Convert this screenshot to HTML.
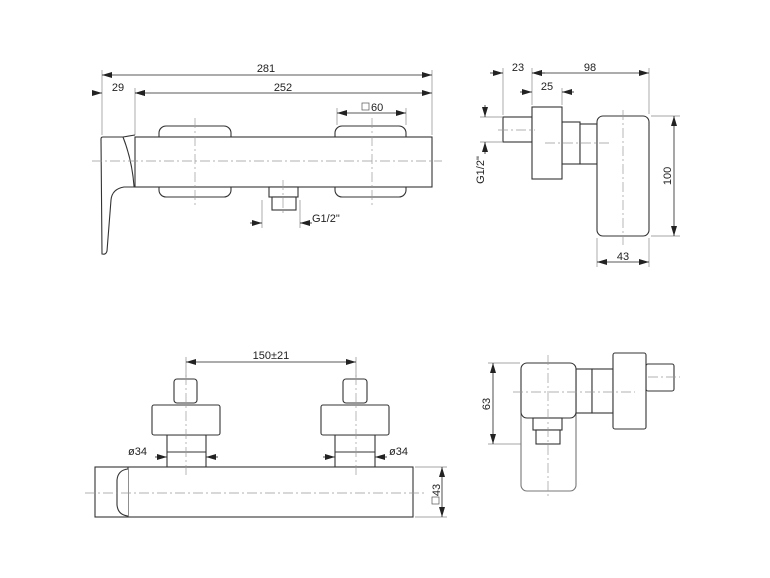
<!DOCTYPE html>
<html><head><meta charset="utf-8"><style>
html,body{margin:0;padding:0;background:#fff}
svg{display:block}
text{font-family:"Liberation Sans",sans-serif;font-size:11px;fill:#222}
</style></head><body>
<svg width="770" height="578" viewBox="0 0 770 578" xmlns="http://www.w3.org/2000/svg">
<defs>
<marker id="a" viewBox="0 0 10 6" refX="10" refY="3" markerWidth="10" markerHeight="6" orient="auto-start-reverse" markerUnits="userSpaceOnUse"><path d="M0,0 L10,3 L0,6 Z" fill="#222"/></marker>
</defs>
<g fill="none" stroke="#888" stroke-width="0.7">
<line x1="102" y1="70" x2="102" y2="135"/><line x1="135" y1="88" x2="135" y2="135"/><line x1="432" y1="70" x2="432" y2="135"/>
<line x1="337" y1="108" x2="337" y2="125"/><line x1="406" y1="108" x2="406" y2="125"/>
<line x1="262" y1="200" x2="262" y2="228"/><line x1="300" y1="200" x2="300" y2="228"/>
<line x1="503" y1="68" x2="503" y2="115"/><line x1="532" y1="68" x2="532" y2="105"/><line x1="649" y1="68" x2="649" y2="114"/><line x1="562" y1="88" x2="562" y2="105"/>
<line x1="480" y1="117" x2="502" y2="117"/><line x1="480" y1="142" x2="502" y2="142"/>
<line x1="651" y1="116" x2="680" y2="116"/><line x1="651" y1="236" x2="680" y2="236"/>
<line x1="597" y1="238" x2="597" y2="267"/><line x1="649" y1="238" x2="649" y2="267"/>
<line x1="186" y1="357" x2="186" y2="377"/><line x1="356" y1="357" x2="356" y2="377"/>
<line x1="415" y1="467" x2="447" y2="467"/><line x1="415" y1="517" x2="447" y2="517"/>
<line x1="488" y1="363" x2="520" y2="363"/><line x1="488" y1="444" x2="535" y2="444"/>
</g>
<g fill="none" stroke="#222" stroke-width="0.8" marker-start="url(#a)" marker-end="url(#a)">
<line x1="102" y1="75" x2="432" y2="75"/>
<line x1="135" y1="93" x2="432" y2="93"/>
<line x1="337" y1="113" x2="406" y2="113"/>
<line x1="532" y1="73" x2="649" y2="73"/>
<line x1="674" y1="116" x2="674" y2="236"/>
<line x1="597" y1="262" x2="649" y2="262"/>
<line x1="186" y1="362" x2="356" y2="362"/>
<line x1="442" y1="467" x2="442" y2="517"/>
<line x1="493" y1="363" x2="493" y2="444"/>
</g>
<g fill="none" stroke="#222" stroke-width="0.8" marker-end="url(#a)">
<line x1="92" y1="93" x2="102" y2="93"/><line x1="145" y1="93" x2="135" y2="93" />
<line x1="250" y1="223" x2="262" y2="223"/><line x1="312" y1="223" x2="300" y2="223"/>
<line x1="490" y1="73" x2="503" y2="73"/><line x1="545" y1="73" x2="532" y2="73"/>
<line x1="520" y1="92" x2="532" y2="92"/><line x1="574" y1="92" x2="562" y2="92"/>
<line x1="485" y1="105" x2="485" y2="117"/><line x1="485" y1="154" x2="485" y2="142"/>
<line x1="155" y1="457" x2="167" y2="457"/><line x1="218" y1="457" x2="206" y2="457"/>
<line x1="323" y1="457" x2="335" y2="457"/><line x1="387" y1="457" x2="375" y2="457"/>
</g>
<g fill="#fff" stroke="#333" stroke-width="1.1">
<rect x="159" y="126" width="72" height="71" rx="7"/>
<rect x="335" y="126" width="71" height="71" rx="7"/>
<rect x="135" y="137" width="297" height="50"/>
<rect x="269" y="187" width="29" height="10"/>
<rect x="272" y="197" width="24" height="13"/>
<path d="M101,139 Q101,137 103,137 L123,137 Q132,160 134,186 L134,187 L124,187 Q112,189 111,200 L107,251 Q106,255 102,254 Z"/>
<line x1="123" y1="137" x2="135" y2="135"/>
<rect x="503" y="117" width="29" height="25"/>
<rect x="562" y="122" width="18" height="42"/>
<rect x="580" y="124" width="17" height="40"/>
<rect x="532" y="107" width="30" height="72"/>
<rect x="597" y="116" width="52" height="120" rx="6"/>
<rect x="167" y="435" width="39" height="32"/><line x1="167" y1="452" x2="206" y2="452"/>
<rect x="335" y="435" width="40" height="32"/><line x1="335" y1="452" x2="375" y2="452"/>
<rect x="152" y="405" width="68" height="30" rx="2"/>
<rect x="321" y="405" width="68" height="30" rx="2"/>
<rect x="174" y="379" width="23" height="24" rx="3"/>
<rect x="343" y="379" width="24" height="24" rx="3"/>
<rect x="95" y="467" width="318" height="50"/>
<line x1="128" y1="467" x2="128" y2="517"/>
<path d="M128,469 Q118,470 117,480 L117,505 Q118,515 128,516"/>
<rect x="521" y="408" width="55" height="83" rx="6" stroke="#777"/>
<rect x="576" y="369" width="16" height="44"/>
<rect x="592" y="369" width="21" height="44"/>
<rect x="646" y="364" width="28" height="27" rx="2"/>
<rect x="613" y="353" width="33" height="76" rx="2"/>
<rect x="521" y="363" width="55" height="55" rx="6"/>
<rect x="533" y="418" width="29" height="12"/>
<rect x="536" y="430" width="24" height="14"/>
</g>
<g fill="none" stroke="#999" stroke-width="0.7" stroke-dasharray="10,3,2,3">
<line x1="92" y1="161" x2="442" y2="161"/>
<line x1="195" y1="118" x2="195" y2="207"/><line x1="372" y1="118" x2="372" y2="207"/>
<line x1="283" y1="180" x2="283" y2="215"/>
<line x1="498" y1="130" x2="535" y2="130"/><line x1="545" y1="143" x2="610" y2="143"/>
<line x1="623" y1="110" x2="623" y2="245"/>
<line x1="85" y1="493" x2="425" y2="493"/>
<line x1="186" y1="375" x2="186" y2="475"/><line x1="356" y1="375" x2="356" y2="475"/>
<line x1="513" y1="392" x2="635" y2="392"/><line x1="648" y1="377" x2="680" y2="377"/>
<line x1="548" y1="355" x2="548" y2="497"/>
</g>
<g>
<text x="266" y="72" text-anchor="middle">281</text>
<text x="118" y="91" text-anchor="middle">29</text>
<text x="283" y="91" text-anchor="middle">252</text>
<rect x="362" y="103" width="7" height="7" fill="none" stroke="#555" stroke-width="0.7"/>
<text x="371" y="111">60</text>
<text x="312" y="222">G1/2"</text>
<text x="518" y="71" text-anchor="middle">23</text>
<text x="590" y="71" text-anchor="middle">98</text>
<text x="547" y="90" text-anchor="middle">25</text>
<text x="623" y="260" text-anchor="middle">43</text>
<text transform="translate(484,170) rotate(-90)" text-anchor="middle">G1/2"</text>
<text transform="translate(671,176) rotate(-90)" text-anchor="middle">100</text>
<text x="271" y="359" text-anchor="middle">150±21</text>
<text x="128" y="455">ø34</text>
<text x="389" y="455">ø34</text>
<text transform="translate(440,490) rotate(-90)" text-anchor="middle">43</text>
<rect x="432" y="497" width="7" height="7" fill="none" stroke="#555" stroke-width="0.7"/>
<text transform="translate(490,404) rotate(-90)" text-anchor="middle">63</text>
</g>
</svg>
</body></html>
